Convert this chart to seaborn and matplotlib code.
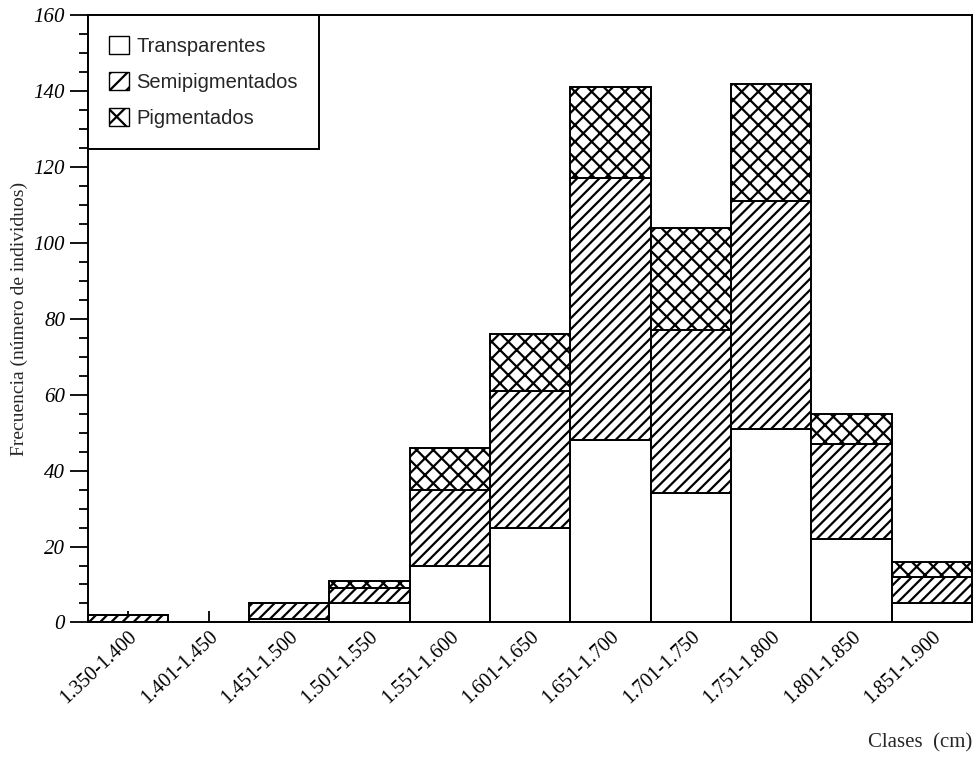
import seaborn as sns
import matplotlib.pyplot as plt
from matplotlib.patches import Patch
from matplotlib.ticker import MultipleLocator

clases = ["1.350-1.400", "1.401-1.450", "1.451-1.500", "1.501-1.550",
          "1.551-1.600", "1.601-1.650", "1.651-1.700", "1.701-1.750",
          "1.751-1.800", "1.801-1.850", "1.851-1.900"]
transparentes = [0, 0, 1, 5, 15, 25, 48, 34, 51, 22, 5]
semipigmentados = [2, 0, 4, 4, 20, 36, 69, 43, 60, 25, 7]
pigmentados = [0, 0, 0, 2, 11, 15, 24, 27, 31, 8, 4]

sns.set_style("ticks")
plt.rcParams['hatch.linewidth'] = 1.6
plt.rcParams['hatch.color'] = 'black'

fig = plt.figure(figsize=(9.75, 7.6), dpi=100)
ax = fig.add_axes([0.0903, 0.181, 0.9067, 0.799])

base2 = [t + s for t, s in zip(transparentes, semipigmentados)]
bar_kw = dict(color="white", edgecolor="black", linewidth=1.4, width=1.0)

sns.barplot(x=clases, y=transparentes, ax=ax, **bar_kw)
sns.barplot(x=clases, y=semipigmentados, bottom=transparentes, hatch="///", ax=ax, **bar_kw)
sns.barplot(x=clases, y=pigmentados, bottom=base2, hatch="xx", ax=ax, **bar_kw)

ax.set_xlim(-0.5, len(clases) - 0.5)
ax.set_ylim(0, 160)
ax.yaxis.set_minor_locator(MultipleLocator(5))

for s in ax.spines.values():
    s.set_linewidth(1.4)
    s.set_color("black")

ax.tick_params(axis="y", which="major", direction="out", length=13, width=1.3, colors="black")
ax.tick_params(axis="y", which="minor", direction="out", length=6.5, width=1.3, colors="black")
ax.tick_params(axis="x", direction="in", length=8, width=1.3, colors="black")

ax.set_yticks(range(0, 161, 20))
ax.set_yticklabels([str(v) for v in range(0, 161, 20)],
                   family="Liberation Serif", style="italic", fontsize=15)
ax.set_xticks(range(len(clases)))
ax.set_xticklabels(clases, rotation=43, ha="right", rotation_mode="anchor",
                   family="Liberation Serif", fontsize=14.5)

ax.set_xlabel("")
ax.set_ylabel("Frecuencia (número de individuos)", family="Liberation Serif", fontsize=14)
fig.text(0.997, 0.022, "Clases  (cm)", ha="right", va="center",
         family="Liberation Serif", fontsize=15)

handles = [Patch(facecolor="white", edgecolor="black", label="Transparentes"),
           Patch(facecolor="white", edgecolor="black", hatch="//", label="Semipigmentados"),
           Patch(facecolor="white", edgecolor="black", hatch="x", label="Pigmentados")]
leg = ax.legend(handles=handles, loc="upper left", bbox_to_anchor=(0, 1),
                borderaxespad=0, fancybox=False, edgecolor="black", framealpha=1,
                handlelength=1.0, handleheight=1.0, handletextpad=0.35,
                labelspacing=0.8, borderpad=1.05,
                prop={"family": "Liberation Sans", "size": 14.5})
leg.get_frame().set_linewidth(1.4)

fig.savefig("out.png", dpi=100, facecolor="white")
